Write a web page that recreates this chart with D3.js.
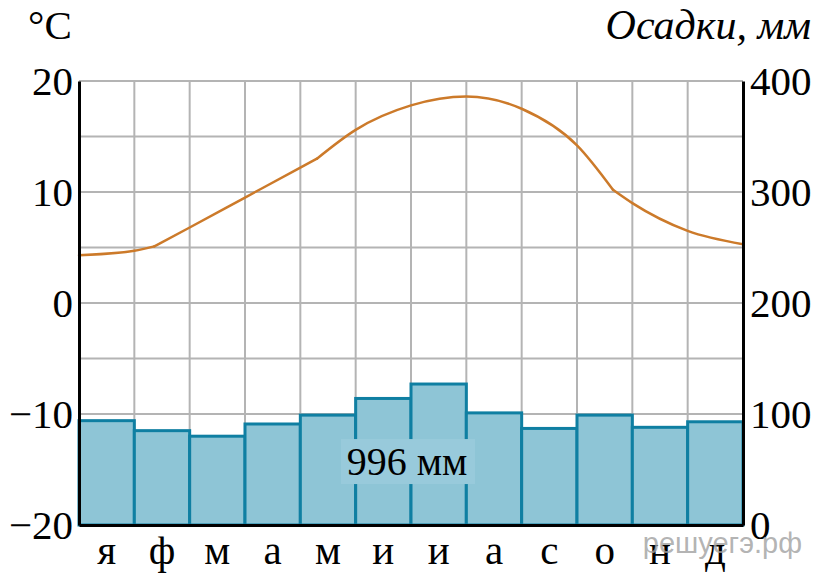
<!DOCTYPE html>
<html>
<head>
<meta charset="utf-8">
<script src="https://cdn.jsdelivr.net/npm/d3@7"></script>
<style>
  body { margin: 0; background: #fff; }
  svg { display: block; }
  svg text { font-family: "Liberation Serif", "DejaVu Serif", serif; }
  svg text.wm { font-family: "Liberation Sans", "DejaVu Sans", sans-serif; }
</style>
</head>
<body>
<div id="chart"></div>
<script>
// Data
const months = ['я', 'ф', 'м', 'а', 'м', 'и', 'и', 'а', 'с', 'о', 'н', 'д'];
const precipitation = [94, 85, 80, 91, 99, 114, 127, 101, 87, 99, 88, 93];
// temperature curve: position in months (0 = start of Jan, 12 = end of Dec) and °C
const tempPos = [0, 1, 1.36, 2, 3, 4, 4.3, 5, 6, 7, 8, 9, 9.65, 10, 11, 12];
const tempValues = [4.3, 4.7, 5.1, 6.8, 9.5, 12.2, 13.0, 15.6, 17.8, 18.6, 17.5, 14.2, 10.2, 9.0, 6.5, 5.3];
// indexes where the curve has a sharp bend
const tempBends = [0, 2, 6, 12, 15];
const tempTicks = [-20, -10, 0, 10, 20];
const precipTicks = [0, 100, 200, 300, 400];
const totalLabel = '996 мм';

const width = 822, height = 574;
const margin = { top: 81, right: 79, bottom: 49, left: 79 };
const w = width - margin.left - margin.right;
const h = height - margin.top - margin.bottom;

const svg = d3.select('#chart').append('svg')
    .attr('width', width)
    .attr('height', height);

const g = svg.append('g')
    .attr('transform', `translate(${margin.left},${margin.top})`);

const xBand = d3.scaleBand().domain(d3.range(12)).range([0, w]).padding(0);
const xPos = d3.scaleLinear().domain([0, 12]).range([0, w]);
const yTemp = d3.scaleLinear().domain([-20, 20]).range([h, 0]);
const yPrec = d3.scaleLinear().domain([0, 400]).range([h, 0]);

// grid
g.append('g')
    .selectAll('line')
    .data(d3.range(-20, 21, 5))
    .enter().append('line')
    .attr('x1', 0).attr('x2', w)
    .attr('y1', d => yTemp(d)).attr('y2', d => yTemp(d))
    .attr('stroke', '#b4b4b4').attr('stroke-width', 2);

g.append('g')
    .selectAll('line')
    .data(d3.range(1, 12))
    .enter().append('line')
    .attr('x1', d => xPos(d)).attr('x2', d => xPos(d))
    .attr('y1', 0).attr('y2', h)
    .attr('stroke', '#b4b4b4').attr('stroke-width', 2);

// precipitation bars
g.append('g')
    .selectAll('rect')
    .data(precipitation)
    .enter().append('rect')
    .attr('x', (d, i) => xBand(i))
    .attr('width', xBand.bandwidth())
    .attr('y', d => yPrec(d))
    .attr('height', d => h - yPrec(d))
    .attr('fill', '#8ec5d6')
    .attr('stroke', '#0f7fa2')
    .attr('stroke-width', 3);

// total label
const labelG = g.append('g')
    .attr('transform', `translate(${w / 2},${yPrec(45)})`);
labelG.append('rect')
    .attr('x', -70).attr('y', -36)
    .attr('width', 134).attr('height', 45)
    .attr('fill', '#98cadb');
labelG.append('text')
    .attr('text-anchor', 'middle')
    .attr('font-size', 40)
    .attr('x', -4)
    .text(totalLabel);

// temperature line, drawn piece by piece so the bends stay sharp
const line = d3.line()
    .x(d => xPos(d[0]))
    .y(d => yTemp(d[1]))
    .curve(d3.curveMonotoneX);

const tempPoints = tempPos.map((p, i) => [p, tempValues[i]]);
const pieces = d3.pairs(tempBends).map(([a, b]) => tempPoints.slice(a, b + 1));

g.append('g')
    .selectAll('path')
    .data(pieces)
    .enter().append('path')
    .attr('d', line)
    .attr('fill', 'none')
    .attr('stroke', '#cc7a2a')
    .attr('stroke-width', 2.5)
    .attr('stroke-linejoin', 'round')
    .attr('stroke-linecap', 'round');

// axes
const fmtMinus = d => (d < 0 ? '\u2212' + Math.abs(d) : String(d));

const leftAxis = g.append('g')
    .call(d3.axisLeft(yTemp).tickValues(tempTicks).tickSize(0).tickPadding(6).tickFormat(fmtMinus))
    .attr('font-family', null);
leftAxis.select('.domain').attr('stroke', '#000').attr('stroke-width', 3);
leftAxis.selectAll('text').attr('font-size', 41).attr('fill', '#000');

const rightAxis = g.append('g')
    .attr('transform', `translate(${w},0)`)
    .call(d3.axisRight(yPrec).tickValues(precipTicks).tickSize(0).tickPadding(7))
    .attr('font-family', null);
rightAxis.select('.domain').attr('stroke', '#000').attr('stroke-width', 3);
rightAxis.selectAll('text').attr('font-size', 41).attr('fill', '#000');

const bottomAxis = g.append('g')
    .attr('transform', `translate(0,${h})`)
    .call(d3.axisBottom(xBand).tickSize(0).tickPadding(10).tickFormat(i => months[i]))
    .attr('font-family', null);
bottomAxis.select('.domain').attr('stroke', '#000').attr('stroke-width', 3);
bottomAxis.selectAll('text').attr('font-size', 41).attr('fill', '#000');

// titles
svg.append('text')
    .attr('x', 28).attr('y', 39)
    .attr('font-size', 41)
    .text('°C');

svg.append('text')
    .attr('x', 811).attr('y', 39)
    .attr('text-anchor', 'end')
    .attr('font-style', 'italic')
    .attr('font-size', 42)
    .text('Осадки, мм');

// watermark
svg.append('text')
    .attr('class', 'wm')
    .attr('x', 802).attr('y', 553)
    .attr('text-anchor', 'end')
    .attr('font-size', 29)
    .attr('fill', '#a0a0a0')
    .attr('fill-opacity', 0.8)
    .text('решуегэ.рф');
</script>
</body>
</html>
